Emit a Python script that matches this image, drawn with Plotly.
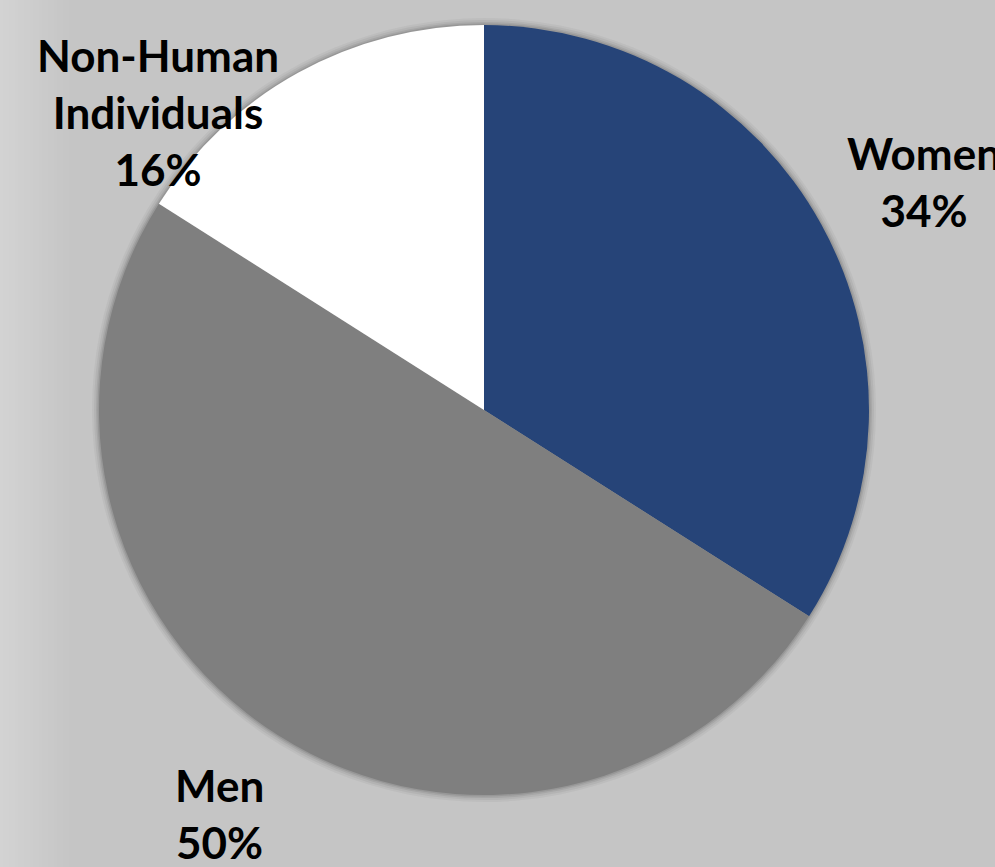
import plotly.graph_objects as go

categories = ["Women", "Men", "Non-Human<br>Individuals"]
values = [34, 50, 16]
colors = ["#264478", "#7f7f7f", "#ffffff"]

W, H = 995, 867
cx, cy, r = 484, 410, 385

fig = go.Figure(go.Pie(
    labels=categories,
    values=values,
    sort=False,
    direction="clockwise",
    rotation=0,
    marker=dict(colors=colors, line=dict(width=0)),
    textinfo="none",
    hoverinfo="label+percent",
    domain=dict(x=[(cx - r) / W, (cx + r) / W], y=[1 - (cy + r) / H, 1 - (cy - r) / H]),
    showlegend=False,
))

# soft background gradient on the left edge (styling only)
steps = 24
for i in range(steps):
    g = int(round(0xd3 - (0xd3 - 0xc5) * i / (steps - 1)))
    fig.add_shape(type="rect", xref="paper", yref="paper",
                  x0=i * 3 / W, x1=(i + 1) * 3 / W + 0.001, y0=0, y1=1,
                  fillcolor=f"rgb({g},{g},{g})", line=dict(width=0), layer="below")

# soft shadow around the pie
for dr, a in [(7, 0.04), (5, 0.05), (3, 0.07), (1.5, 0.09)]:
    fig.add_shape(type="circle", xref="paper", yref="paper",
                  x0=(cx - r - dr) / W, x1=(cx + r + dr) / W,
                  y0=1 - (cy + r + dr) / H, y1=1 - (cy - r - dr) / H,
                  fillcolor=f"rgba(0,0,0,{a})", line=dict(width=0), layer="below")

# label positions (pixel centres) for each category
label_pos = [(924, 181), (219, 813), (158, 112)]
total = sum(values)
for cat, v, (lx, ly) in zip(categories, values, label_pos):
    fig.add_annotation(
        x=lx / W, y=1 - ly / H, xref="paper", yref="paper",
        text=f"<b>{cat}<br>{round(100 * v / total)}%</b>",
        showarrow=False, xanchor="center", yanchor="middle", align="center",
        font=dict(family="Lato", size=44, color="#000000"),
    )

fig.update_layout(
    width=W, height=H,
    margin=dict(l=0, r=0, t=0, b=0),
    paper_bgcolor="#c5c5c5",
    plot_bgcolor="#c5c5c5",
)
fig.write_html("out.html", config={"displayModeBar": False})

with open("out.html", encoding="utf-8") as f:
    html = f.read()
html = html.replace("<head>", "<head><style>html,body{margin:0;padding:0;overflow:hidden;}</style>", 1)
with open("out.html", "w", encoding="utf-8") as f:
    f.write(html)
